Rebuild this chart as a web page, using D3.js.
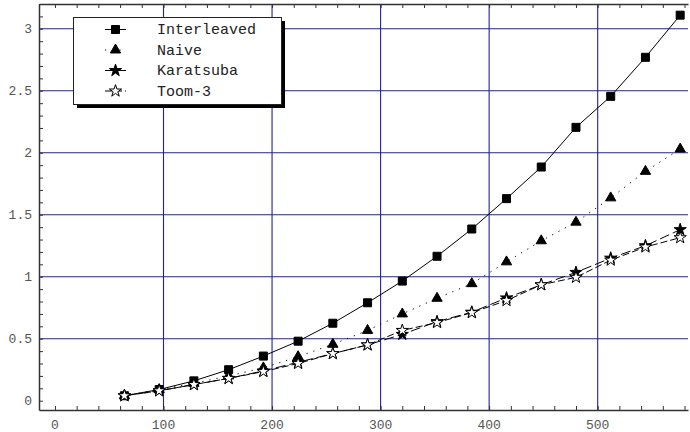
<!DOCTYPE html>
<html>
<head>
<meta charset="utf-8">
<script src="https://cdn.jsdelivr.net/npm/d3@7"></script>
<style>
  body { margin: 0; background: #fff; }
  svg { display: block; }
  .tick-label { font-family: "Liberation Mono", "DejaVu Sans Mono", monospace; font-size: 13px; fill: #555; }
  .legend-text { font-family: "Liberation Mono", "DejaVu Sans Mono", monospace; font-size: 15px; fill: #222; }
</style>
</head>
<body>
<div id="chart"></div>
<script>
// Operand sizes (x axis)
const sizes = [64, 96, 128, 160, 192, 224, 256, 288, 320, 352, 384, 416, 448, 480, 512, 544, 576];

// Timings per algorithm
const interleaved = [0.04, 0.09, 0.16, 0.25, 0.36, 0.48, 0.625, 0.79, 0.965, 1.165, 1.385, 1.63, 1.885, 2.205, 2.455, 2.77, 3.11];
const naive       = [0.04, 0.09, 0.14, 0.20, 0.265, 0.355, 0.455, 0.567, 0.70, 0.826, 0.944, 1.12, 1.29, 1.44, 1.636, 1.85, 2.03];
const karatsuba   = [0.04, 0.08, 0.13, 0.18, 0.24, 0.31, 0.38, 0.45, 0.535, 0.638, 0.714, 0.829, 0.935, 1.035, 1.15, 1.25, 1.38];
const toom3       = [0.04, 0.08, 0.13, 0.18, 0.235, 0.30, 0.38, 0.45, 0.567, 0.63, 0.71, 0.808, 0.935, 0.995, 1.134, 1.24, 1.315];

const seriesNames = ["Interleaved", "Naive", "Karatsuba", "Toom-3"];

// Tick values
const xMajorTicks = [0, 100, 200, 300, 400, 500];
const yMajorTicks = [0, 0.5, 1, 1.5, 2, 2.5, 3];

const width = 690;
const height = 432;

const svg = d3.select("#chart")
    .append("svg")
    .attr("width", width)
    .attr("height", height);

const x = d3.scaleLinear().domain([-14.7, 583.2]).range([39, 688]);
const y = d3.scaleLinear().domain([-0.075, 3.2]).range([410, 4]);

const gridColor = "#22229a";

// Grid lines (skip zero)
svg.append("g").selectAll("line")
    .data(xMajorTicks.filter(d => d > 0))
    .enter().append("line")
    .attr("x1", d => x(d)).attr("x2", d => x(d))
    .attr("y1", y.range()[1]).attr("y2", y.range()[0])
    .attr("stroke", gridColor).attr("stroke-width", 1.1);

svg.append("g").selectAll("line")
    .data(yMajorTicks.filter(d => d > 0))
    .enter().append("line")
    .attr("x1", x.range()[0]).attr("x2", x.range()[1])
    .attr("y1", d => y(d)).attr("y2", d => y(d))
    .attr("stroke", gridColor).attr("stroke-width", 1.1);

// Axes: minor ticks pointing inward
const xMinor = d3.range(0, 581, 20);
const yMinor = d3.range(0, 3.21, 0.1);

const bottomAxis = d3.axisTop(x).tickValues(xMinor).tickSize(4).tickFormat("");
const topAxis = d3.axisBottom(x).tickValues(xMinor).tickSize(4).tickFormat("");
const leftAxis = d3.axisRight(y).tickValues(yMinor).tickSize(4).tickFormat("");

function styleAxis(g) {
    g.select(".domain").attr("stroke", "#333").attr("stroke-width", 1.5);
    g.selectAll(".tick line").attr("stroke", "#333");
}

svg.append("g").attr("transform", `translate(0,${y.range()[0]})`)
    .call(bottomAxis.tickSizeOuter(0)).call(styleAxis);
svg.append("g").attr("transform", `translate(0,${y.range()[1]})`)
    .call(topAxis.tickSizeOuter(0)).call(styleAxis);
svg.append("g").attr("transform", `translate(${x.range()[0]},0)`)
    .call(leftAxis.tickSizeOuter(0)).call(styleAxis);

// Tick labels
svg.append("g").selectAll("text")
    .data(xMajorTicks)
    .enter().append("text")
    .attr("class", "tick-label")
    .attr("x", d => x(d))
    .attr("y", 429)
    .attr("text-anchor", "middle")
    .text(d => d);

svg.append("g").selectAll("text")
    .data(yMajorTicks)
    .enter().append("text")
    .attr("class", "tick-label")
    .attr("x", 32)
    .attr("y", d => y(d) + 4.5)
    .attr("text-anchor", "end")
    .text(d => d);

// Series definitions
const series = [
    { name: seriesNames[0], values: interleaved, dash: null, symbol: d3.symbolSquare, size: 64, fill: "#000" },
    { name: seriesNames[1], values: naive, dash: "1.2,6", symbol: d3.symbolTriangle, size: 46, fill: "#000" },
    { name: seriesNames[2], values: karatsuba, dash: "10,4", symbol: d3.symbolStar, size: 46, fill: "#000" },
    { name: seriesNames[3], values: toom3, dash: "7,3", symbol: d3.symbolStar, size: 46, fill: "#fff" }
];

const line = d3.line()
    .x((d, i) => x(sizes[i]))
    .y(d => y(d));

series.forEach(s => {
    svg.append("path")
        .datum(s.values)
        .attr("fill", "none")
        .attr("stroke", "#000")
        .attr("stroke-width", 1)
        .attr("stroke-dasharray", s.dash)
        .attr("d", line);
});

series.forEach(s => {
    svg.append("g").selectAll("path")
        .data(s.values)
        .enter().append("path")
        .attr("transform", (d, i) => `translate(${x(sizes[i])},${y(d)})`)
        .attr("d", d3.symbol().type(s.symbol).size(s.size))
        .attr("fill", s.fill)
        .attr("stroke", "#000")
        .attr("stroke-width", 1);
});

// Legend
const legend = svg.append("g");
legend.append("rect")
    .attr("x", 77).attr("y", 21)
    .attr("width", 208).attr("height", 87)
    .attr("fill", "#000");
legend.append("rect")
    .attr("x", 73.5).attr("y", 17.5)
    .attr("width", 208).attr("height", 87)
    .attr("fill", "#fff")
    .attr("stroke", "#222").attr("stroke-width", 1);

const legendY = [29.5, 50, 70.5, 91];
series.forEach((s, i) => {
    const ly = legendY[i];
    legend.append("line")
        .attr("x1", 105).attr("x2", 126)
        .attr("y1", ly).attr("y2", ly)
        .attr("stroke", "#000")
        .attr("stroke-dasharray", s.dash);
    legend.append("path")
        .attr("transform", `translate(115.5,${ly})`)
        .attr("d", d3.symbol().type(s.symbol).size(s.size))
        .attr("fill", s.fill)
        .attr("stroke", "#000");
    legend.append("text")
        .attr("class", "legend-text")
        .attr("x", 157)
        .attr("y", ly + 4.5)
        .text(s.name);
});
</script>
</body>
</html>
